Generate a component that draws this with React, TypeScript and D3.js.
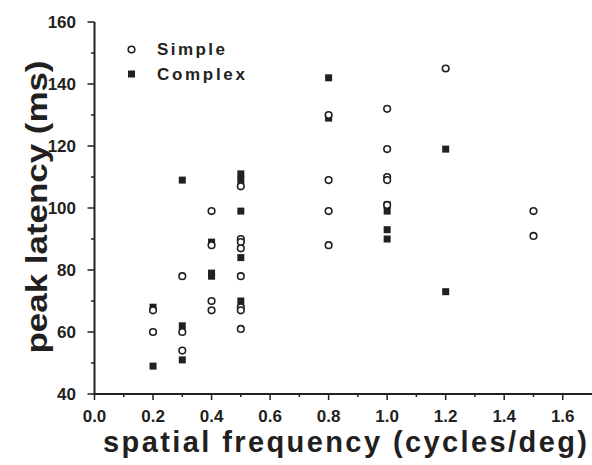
import React from "react";
import * as d3 from "d3";

// peak latency vs spatial frequency, simple and complex cells
const simpleFreq = [0.2, 0.2, 0.3, 0.3, 0.3, 0.4, 0.4, 0.4, 0.4, 0.5, 0.5, 0.5, 0.5, 0.5, 0.5, 0.5, 0.5, 0.8, 0.8, 0.8, 0.8, 1.0, 1.0, 1.0, 1.0, 1.0, 1.2, 1.5, 1.5];
const simpleLatency = [67, 60, 78, 60, 54, 99, 88, 70, 67, 107, 90, 89, 87, 78, 68, 67, 61, 130, 109, 99, 88, 132, 119, 110, 109, 101, 145, 99, 91];

const complexFreq = [0.2, 0.2, 0.3, 0.3, 0.3, 0.4, 0.4, 0.4, 0.5, 0.5, 0.5, 0.5, 0.5, 0.8, 0.8, 1.0, 1.0, 1.0, 1.0, 1.2, 1.2];
const complexLatency = [68, 49, 109, 62, 51, 89, 79, 78, 111, 109, 99, 84, 70, 142, 129, 101, 99, 93, 90, 119, 73];

const xTicks = [0, 0.2, 0.4, 0.6, 0.8, 1.0, 1.2, 1.4, 1.6];
const yTicks = [40, 60, 80, 100, 120, 140, 160];

const W = 592;
const H = 465;
const ink = "#231f20";

export default function App() {
  const x = d3.scaleLinear().domain([0, 1.7]).range([94.5, 592]);
  const y = d3.scaleLinear().domain([40, 160]).range([394, 22]);

  const xMinor = d3.range(1, 17, 2).map((i) => i / 10);
  const yMinor = d3.range(50, 160, 20);

  const font = "'Liberation Sans', Arial, sans-serif";

  return (
    <svg width={W} height={H} style={{ position: "absolute", left: 0, top: 0, background: "#fff" }}>
      {/* axes */}
      <line x1={x(0)} x2={x(0)} y1={y(160)} y2={y(40)} stroke={ink} strokeWidth={2} />
      <line x1={x(0) - 1} x2={x(1.7)} y1={y(40)} y2={y(40)} stroke={ink} strokeWidth={2} />

      {xTicks.map((t) => (
        <g key={"xt" + t}>
          <line x1={x(t)} x2={x(t)} y1={y(40)} y2={y(40) + 6} stroke={ink} strokeWidth={1.5} />
          <text x={x(t)} y={422} textAnchor="middle" fontFamily={font} fontWeight="bold" fontSize={17} fill={ink}>
            {d3.format(".1f")(t)}
          </text>
        </g>
      ))}
      {xMinor.map((t) => (
        <line key={"xm" + t} x1={x(t)} x2={x(t)} y1={y(40)} y2={y(40) + 3} stroke={ink} strokeWidth={1.5} />
      ))}

      {yTicks.map((t) => (
        <g key={"yt" + t}>
          <line x1={x(0) - 7} x2={x(0)} y1={y(t)} y2={y(t)} stroke={ink} strokeWidth={1.5} />
          <text x={76} y={y(t) + 6} textAnchor="end" fontFamily={font} fontWeight="bold" fontSize={17} fill={ink}>
            {t}
          </text>
        </g>
      ))}
      {yMinor.map((t) => (
        <line key={"ym" + t} x1={x(0) - 3.5} x2={x(0)} y1={y(t)} y2={y(t)} stroke={ink} strokeWidth={1.5} />
      ))}

      {/* axis titles */}
      <text
        transform={`translate(47, 207) rotate(-90)`}
        textAnchor="middle"
        fontFamily={font}
        fontWeight="bold"
        fontSize={30}
        textLength={293}
        lengthAdjust="spacingAndGlyphs"
        fill={ink}
      >
        peak latency (ms)
      </text>
      <text
        x={345}
        y={452}
        textAnchor="middle"
        fontFamily={font}
        fontWeight="bold"
        fontSize={29}
        textLength={484}
        lengthAdjust="spacing"
        fill={ink}
      >
        spatial frequency (cycles/deg)
      </text>

      {/* points */}
      {complexFreq.map((f, i) => (
        <rect key={"c" + i} x={x(f) - 3.5} y={y(complexLatency[i]) - 3.5} width={7} height={7} fill={ink} />
      ))}
      {simpleFreq.map((f, i) => (
        <circle key={"s" + i} cx={x(f)} cy={y(simpleLatency[i])} r={3.3} fill="#fff" stroke={ink} strokeWidth={1.6} />
      ))}

      {/* legend */}
      <circle cx={131.5} cy={49.5} r={3.3} fill="#fff" stroke={ink} strokeWidth={1.6} />
      <text x={157} y={55} fontFamily={font} fontWeight="bold" fontSize={17} textLength={68} lengthAdjust="spacing" fill={ink}>
        Simple
      </text>
      <rect x={128} y={70.5} width={7} height={7} fill={ink} />
      <text x={157} y={80} fontFamily={font} fontWeight="bold" fontSize={17} textLength={88} lengthAdjust="spacing" fill={ink}>
        Complex
      </text>
    </svg>
  );
}
